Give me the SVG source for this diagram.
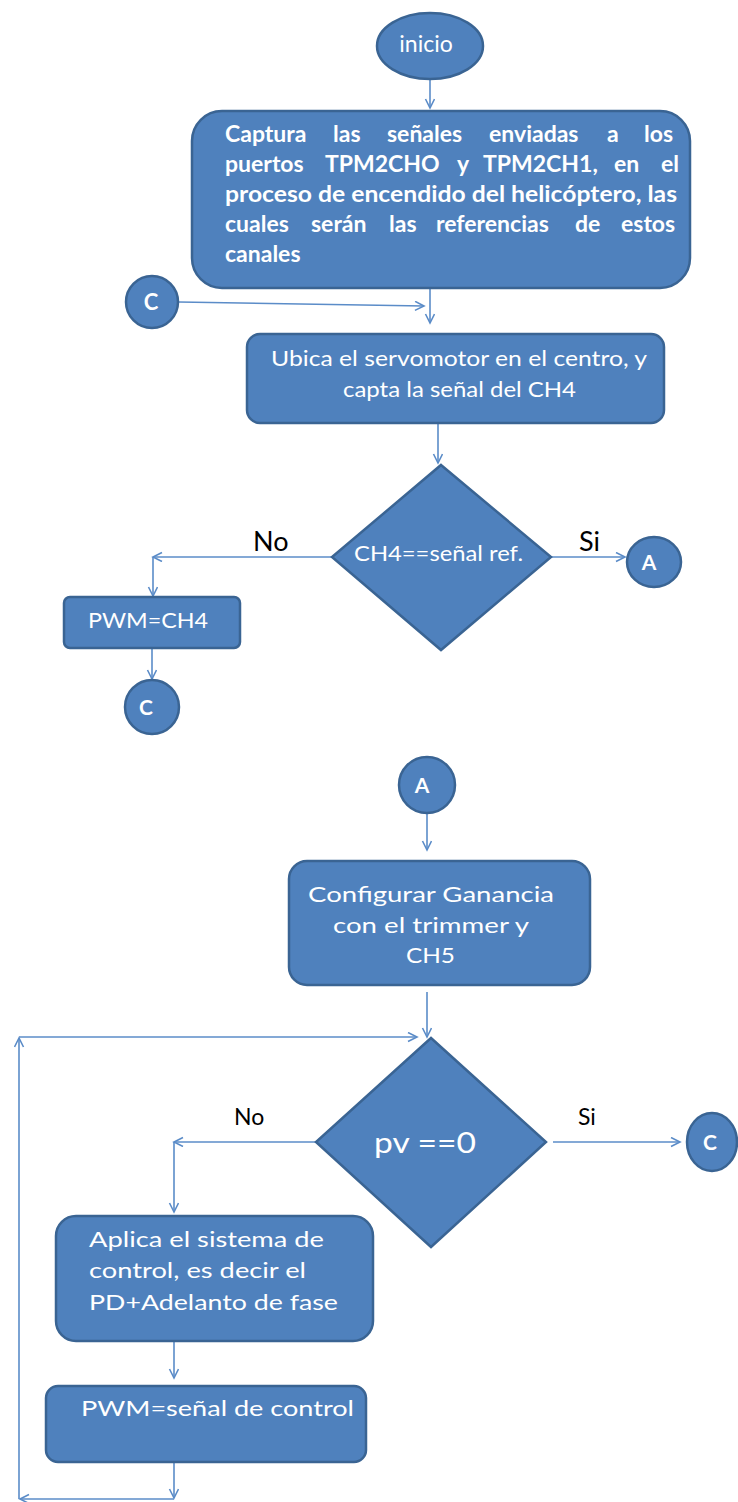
<svg xmlns="http://www.w3.org/2000/svg" width="738" height="1502" viewBox="0 0 738 1502">
<defs>
<marker id="arr" markerWidth="12" markerHeight="12" refX="10" refY="5" orient="auto" markerUnits="userSpaceOnUse">
<path d="M1,0.5 L10,5 L1,9.5" fill="none" stroke="#5B8CC8" stroke-width="1.6"/>
</marker>
<style>
.n{fill:#4F81BD;stroke:#3A6493;stroke-width:2.5}
.t{fill:#ffffff;font-family:Lato,"Liberation Sans",sans-serif}
.b{font-weight:bold}
.l{fill:#000000;font-family:Lato,"Liberation Sans",sans-serif}
.c{fill:none;stroke:#5B8CC8;stroke-width:1.6}
</style>
</defs>
<rect width="738" height="1502" fill="#ffffff"/>
<g id="connectors">
<path class="c" d="M430,79 L430,108" marker-end="url(#arr)"/>
<path class="c" d="M430,288 L430,323" marker-end="url(#arr)"/>
<path class="c" d="M179,302 L424,306" marker-end="url(#arr)"/>
<path class="c" d="M438,423 L438,463" marker-end="url(#arr)"/>
<path class="c" d="M331,557 L153,557" marker-end="url(#arr)"/>
<path class="c" d="M153,557 L153,596" marker-end="url(#arr)"/>
<path class="c" d="M152,649 L152,679" marker-end="url(#arr)"/>
<path class="c" d="M551,557 L625,557" marker-end="url(#arr)"/>
<path class="c" d="M427,813 L427,850" marker-end="url(#arr)"/>
<path class="c" d="M427,992 L427,1037" marker-end="url(#arr)"/>
<path class="c" d="M553,1142 L680,1142" marker-end="url(#arr)"/>
<path class="c" d="M315,1142 L174,1142" marker-end="url(#arr)"/>
<path class="c" d="M174,1142 L174,1212" marker-end="url(#arr)"/>
<path class="c" d="M174,1342 L174,1378" marker-end="url(#arr)"/>
<path class="c" d="M174,1463 L174,1498" marker-end="url(#arr)"/>
<path class="c" d="M174,1499 L20,1499" marker-end="url(#arr)"/>
<path class="c" d="M19,1499 L19,1038" marker-end="url(#arr)"/>
<path class="c" d="M19,1037 L417,1037" marker-end="url(#arr)"/>
</g>
<g id="inicio">
<ellipse class="n" cx="430" cy="46" rx="53" ry="33"/>
<text class="t" x="426" y="52" font-size="23" text-anchor="middle">inicio</text>
</g>
<g id="captura">
<rect class="n" x="192" y="111" width="498" height="177" rx="30"/>
<text class="t b" y="142" font-size="23"><tspan x="225">Captura</tspan><tspan x="333">las</tspan><tspan x="387">señales</tspan><tspan x="489">enviadas</tspan><tspan x="607">a</tspan><tspan x="644">los</tspan></text>
<text class="t b" y="172" font-size="23"><tspan x="225">puertos</tspan><tspan x="325">TPM2CHO</tspan><tspan x="457">y</tspan><tspan x="483">TPM2CH1,</tspan><tspan x="614">en</tspan><tspan x="661">el</tspan></text>
<text class="t b" x="225" y="202" font-size="23" textLength="452" lengthAdjust="spacingAndGlyphs">proceso de encendido del helicóptero, las</text>
<text class="t b" y="232" font-size="23"><tspan x="225">cuales</tspan><tspan x="311">serán</tspan><tspan x="389">las</tspan><tspan x="436">referencias</tspan><tspan x="575">de</tspan><tspan x="621">estos</tspan></text>
<text class="t b" x="225" y="262" font-size="23">canales</text>
</g>
<g id="c1">
<circle class="n" cx="152" cy="302" r="26"/>
<text class="t b" x="151" y="310" font-size="22" text-anchor="middle">C</text>
</g>
<g id="ubica">
<rect class="n" x="247" y="334" width="417" height="89" rx="13"/>
<text class="t" x="271" y="366" font-size="21" textLength="376" lengthAdjust="spacingAndGlyphs">Ubica el servomotor en el centro, y</text>
<text class="t" x="343" y="397" font-size="21" textLength="233" lengthAdjust="spacingAndGlyphs">capta la señal del CH4</text>
</g>
<g id="dec1">
<polygon class="n" points="441,465 551,557 441,650 332,557"/>
<text class="t" x="354" y="561" font-size="21" textLength="169" lengthAdjust="spacingAndGlyphs">CH4==señal ref.</text>
</g>
<text class="l" x="253" y="551" font-size="27">No</text>
<text class="l" x="579" y="551" font-size="27">Si</text>
<g id="a1">
<ellipse class="n" cx="654" cy="562" rx="27" ry="25"/>
<text class="t b" x="649" y="570" font-size="21" text-anchor="middle">A</text>
</g>
<g id="pwmch4">
<rect class="n" x="64" y="597" width="176" height="51" rx="6"/>
<text class="t" x="88" y="628" font-size="21" textLength="120" lengthAdjust="spacingAndGlyphs">PWM=CH4</text>
</g>
<g id="c2">
<ellipse class="n" cx="152" cy="707" rx="27" ry="27"/>
<text class="t b" x="146" y="715" font-size="21" text-anchor="middle">C</text>
</g>
<g id="a2">
<ellipse class="n" cx="427" cy="785" rx="28" ry="28"/>
<text class="t b" x="422" y="793" font-size="21" text-anchor="middle">A</text>
</g>
<g id="config">
<rect class="n" x="289" y="861" width="301" height="124" rx="18"/>
<text class="t" x="308" y="902" font-size="22" textLength="246" lengthAdjust="spacingAndGlyphs">Configurar Ganancia</text>
<text class="t" x="333" y="933" font-size="22" textLength="196" lengthAdjust="spacingAndGlyphs">con el trimmer y</text>
<text class="t" x="406" y="963" font-size="22" textLength="49" lengthAdjust="spacingAndGlyphs">CH5</text>
</g>
<g id="dec2">
<polygon class="n" points="431,1038 546,1142 431,1247 316,1142"/>
<text class="t" x="374" y="1153" font-size="28" textLength="102" lengthAdjust="spacingAndGlyphs">pv ==0</text>
</g>
<text class="l" x="234" y="1125" font-size="23">No</text>
<text class="l" x="578" y="1125" font-size="23">Si</text>
<g id="c3">
<ellipse class="n" cx="712" cy="1142" rx="25" ry="29"/>
<text class="t b" x="710" y="1150" font-size="21" text-anchor="middle">C</text>
</g>
<g id="aplica">
<rect class="n" x="56" y="1216" width="317" height="125" rx="20"/>
<text class="t" x="89" y="1247" font-size="22" textLength="235" lengthAdjust="spacingAndGlyphs">Aplica el  sistema de</text>
<text class="t" x="89" y="1278" font-size="22" textLength="217" lengthAdjust="spacingAndGlyphs">control, es decir el</text>
<text class="t" x="89" y="1310" font-size="22" textLength="249" lengthAdjust="spacingAndGlyphs">PD+Adelanto de fase</text>
</g>
<g id="pwmsenal">
<rect class="n" x="46" y="1386" width="320" height="76" rx="12"/>
<text class="t" x="81" y="1416" font-size="22" textLength="273" lengthAdjust="spacingAndGlyphs">PWM=señal de control</text>
</g>
</svg>
